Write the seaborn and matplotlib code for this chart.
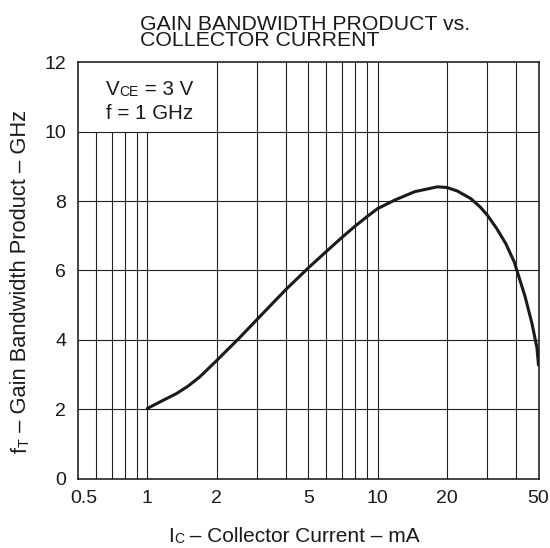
#!/usr/bin/env python3
"""
Gain bandwidth product vs. collector current (log x axis).
"""

import numpy as np
import pandas as pd
import matplotlib
matplotlib.use("Agg")
import matplotlib.pyplot as plt
import matplotlib.transforms as mtransforms
import seaborn as sns

# values
ic_ma = [1, 1.2, 1.34, 1.5, 1.69, 2, 2.5, 3, 4, 5, 6, 7, 8, 9, 10, 11.9,
         14.5, 18.2, 20, 22.2, 25.4, 27.9, 30, 32.9, 36, 39.2, 43.7, 46.8,
         49.2, 50]
ft_ghz = [2.02, 2.29, 2.45, 2.66, 2.93, 3.40, 4.04, 4.59, 5.45, 6.07, 6.55,
          6.95, 7.28, 7.55, 7.78, 8.03, 8.27, 8.41, 8.39, 8.29, 8.07, 7.83,
          7.59, 7.21, 6.78, 6.25, 5.25, 4.48, 3.78, 3.27]

x_ticks = [0.5, 1, 2, 5, 10, 20, 50]
x_tick_labels = ["0.5", "1", "2", "5", "10", "20", "50"]
y_ticks = [0, 2, 4, 6, 8, 10, 12]

title_lines = ["GAIN BANDWIDTH PRODUCT vs.", "COLLECTOR CURRENT"]


def chain_text(fig, x, y, parts, rotation=0, **kw):
    """Draw text pieces of different sizes one after another."""
    first_txt, first_size = parts[0]
    if rotation == 0:
        t0 = fig.text(x, y, first_txt, fontsize=first_size, ha="left",
                      va="baseline", **kw)
    else:
        t0 = fig.text(x, y, first_txt, fontsize=first_size, ha="right",
                      va="bottom", rotation=90, **kw)
    pieces = [t0]
    prev = t0
    for txt, size in parts[1:]:
        if rotation == 0:
            ref = (prev, t0) if size == first_size else prev
            prev = plt.annotate(txt, xy=(1, 0), xycoords=ref, fontsize=size,
                                ha="left", va="bottom",
                                annotation_clip=False, **kw)
        else:
            ref = (t0, prev) if size == first_size else prev
            prev = plt.annotate(txt, xy=(1, 1), xycoords=ref, fontsize=size,
                                ha="right", va="bottom", rotation=90,
                                annotation_clip=False, **kw)
        pieces.append(prev)
    return pieces


sns.set_theme(style="white")
plt.rcParams["font.family"] = ["Liberation Sans", "DejaVu Sans"]

W, H = 550, 548
fig = plt.figure(figsize=(W / 100, H / 100), dpi=100)
ax = fig.add_axes([78 / W, 1 - 478.5 / H, (538.5 - 78) / W, (478.5 - 62.3) / H])

df = pd.DataFrame({"ic": ic_ma, "ft": ft_ghz})

# grid: minor log lines, the ones left of 2 mA stop under the condition box
grid_x = [m * 10.0 ** e for e in (-1, 0, 1) for m in range(1, 10)]
grid_x = [g for g in grid_x if 0.5 < g < 50]
short_x = [g for g in grid_x if g < 1.5]
long_x = [g for g in grid_x if g >= 1.5]
ax.vlines(short_x, 0, 10, colors="#222222", linewidth=0.8, zorder=1)
ax.vlines(long_x, 0, 12, colors="#222222", linewidth=0.8, zorder=1)
ax.hlines(y_ticks[1:-1], 0.5, 50, colors="#222222", linewidth=0.8, zorder=1)

sns.lineplot(data=df, x="ic", y="ft", ax=ax, color="#1a1a1a",
             linewidth=2.2, zorder=3)

ax.set_xscale("log")
ax.set_xlim(0.5, 50)
ax.set_ylim(0, 12)
ax.set_xticks(x_ticks)
ax.set_xticklabels(x_tick_labels)
ax.xaxis.set_minor_locator(matplotlib.ticker.NullLocator())
ax.set_yticks(y_ticks)
ax.tick_params(axis="both", length=0, labelsize=14, colors="#1a1a1a")
ax.tick_params(axis="x", pad=8.5)
ax.tick_params(axis="y", pad=8.5)
ax.set_xlabel("")
ax.set_ylabel("")
for s in ax.spines.values():
    s.set_color("#111111")
    s.set_linewidth(1.1)

# first x label sits a little inside the frame, like the datasheet
first_lbl = ax.get_xticklabels()[0]
first_lbl.set_transform(first_lbl.get_transform() +
                        mtransforms.ScaledTranslation(6 / 100, 0, fig.dpi_scale_trans))

txt_kw = dict(color="#1a1a1a")

# title
fig.text(140 / W, 1 - 46.5 / H, "\n".join(title_lines), fontsize=15.3,
         ha="left", va="baseline", linespacing=0.85, **txt_kw)

# conditions box text
chain_text(fig, 106 / W, 1 - 95 / H,
           [("V", 14.8), ("CE", 10), (" = 3 V", 14.8)], **txt_kw)
fig.text(106 / W, 1 - 119 / H, "f = 1 GHz", fontsize=14.8, ha="left",
         va="baseline", **txt_kw)

# axis labels
chain_text(fig, 168.6 / W, 1 - 541.7 / H,
           [("I", 15), ("C", 10), (" – Collector Current – mA", 15)],
           **txt_kw)


def draw_ylabel(size):
    return chain_text(fig, 31.4 / W, 1 - 453 / H,
                      [("f", size), ("T", size * 0.66),
                       (" – Gain Bandwidth Product – GHz", size)],
                      rotation=90, **txt_kw)


# the y label should run from y = 453 px up to about 111 px
ylab_size = 15.6
pieces = draw_ylabel(ylab_size)
fig.canvas.draw()
r = fig.canvas.get_renderer()
span = pieces[-1].get_window_extent(r).y1 - pieces[0].get_window_extent(r).y0
for p in pieces:
    p.remove()
draw_ylabel(ylab_size * 342 / span)

fig.savefig("out.png", dpi=100)
